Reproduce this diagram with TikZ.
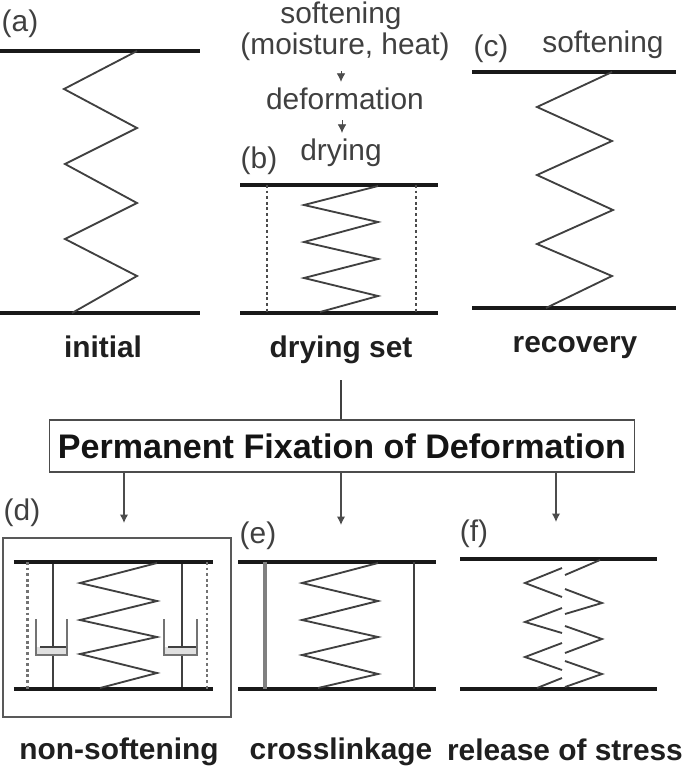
\documentclass[tikz,border=0pt]{standalone}
\usepackage{fontspec}
\setmainfont{Liberation Sans}
\usetikzlibrary{arrows.meta,positioning,calc}

\begin{document}
\begin{tikzpicture}[
  x=.02cm, y=-.02cm,
  font=\fontsize{17}{20}\selectfont,
  >={Latex[length=1.7mm,width=1.7mm]},
  caption/.style={font=\fontsize{17}{20}\selectfont\bfseries, text=black!88},
  plain/.style={text=black!75},
  plate/.style={draw=black!90, line width=1.9pt},
  spring/.style={draw=black!75, line width=1.05pt, line join=miter},
  guide/.style={draw=black!70, line width=.9pt, dash pattern=on 1.6pt off 1.6pt},
  rod/.style={draw=black!75, line width=.9pt},
  cup/.style={draw=black!55, line width=1.2pt},
  flow/.style={->, draw=black!70, line width=.8pt}
]
  \useasboundingbox (0,0) rectangle (685,769);

  % Top row: initial, drying set, recovery.
  \node[plain] (tagA) at (20,24) {(a)};
  \draw[plate] (0,51) -- (200,51);
  \draw[plate] (0,313) -- (200,313);
  \draw[spring] (137,51) -- (64,89) -- (137,128) -- (65,164) -- (137,203) -- (65,239) -- (137,276) -- (72,313);
  \node[caption] (initial) at (103,347) {initial};

  \node[plain] (soft) at (341,16) {softening};
  \node[plain] (moist) at (345,47) {(moisture, heat)};
  \node[plain] (deform) at (345,99) {deformation};
  \node[plain] (dry) at (341,153) {drying};
  \draw[flow, line width=.4pt] (341,71) -- (deform.north -| 341,0);
  \draw[flow, line width=.4pt] (342,120) -- (dry.north -| 342,0);
  \node[plain] (tagB) at (259,161) {(b)};
  \draw[plate] (240,185) -- (438,185);
  \draw[plate] (240,313) -- (438,313);
  \draw[guide] (267,185) -- (267,313);
  \draw[guide] (416,185) -- (416,313);
  \draw[spring] (378,186) -- (304,205) -- (378,222) -- (304,242) -- (378,259) -- (304,278) -- (378,296) -- (320,312);
  \node[caption] (dryset) at (341,350) {drying set};

  \node[plain] (tagC) at (491,49) {(c)};
  \node[plain] (softC) at (603,45) {softening};
  \draw[plate] (472,72) -- (676,72);
  \draw[plate] (472,308) -- (676,308);
  \draw[spring] (612,72) -- (537,107) -- (612,141) -- (537,175) -- (613,210) -- (537,244) -- (612,276) -- (546,308);
  \node[caption] (recov) at (575,348) {recovery};

  % Fixation box with its feeds.
  \node[draw=black!70, line width=1pt, minimum width=11.7cm, minimum height=1.04cm, inner sep=0pt,
    font=\fontsize{19.4}{22}\selectfont\bfseries, text=black!92] (fixbox) at (342,446) {Permanent Fixation of Deformation};
  \coordinate (feedT) at (341,380);
  \draw[rod] (feedT) -- (fixbox.north -| feedT);
  \coordinate (feedD) at (124,523);
  \coordinate (feedE) at (341,525);
  \coordinate (feedF) at (556,522);
  \foreach \f in {feedD,feedE,feedF}
    {\draw[flow] (fixbox.south -| \f) -- (\f);}

  % Bottom row: non-softening, crosslinkage, release of stress.
  \node[plain] (tagD) at (22,513) {(d)};
  \draw[draw=black!65, line width=1.3pt] (3,538) rectangle (231,717);
  \foreach \c/\l/\r in {53/36/67,182/164/197} {
    \fill[black!12] (\l,647) rectangle (\r,655);
    \draw[rod] (\c,562) -- (\c,647);
    \draw[rod] (\c,655) -- (\c,689);
    \draw[cup] (\l,619) -- (\l,655) -- (\r,655) -- (\r,619);
    \draw[rod] (\l+4,647) -- (\r-1,647);
  }
  \draw[plate] (14,562) -- (213,562);
  \draw[plate] (14,689) -- (213,689);
  \draw[guide, draw=black!55, line width=1.3pt] (27.5,562) -- (27.5,689);
  \draw[guide, draw=black!55, line width=1.3pt] (207,562) -- (207,689);
  \draw[spring] (157,563) -- (80,583) -- (157,601) -- (80,620) -- (157,637) -- (80,654) -- (157,673) -- (100,688);
  \node[caption] (nonsoft) at (119,752) {non-softening};

  \node[plain] (tagE) at (258,536) {(e)};
  \draw[plate] (238,562) -- (436,562);
  \draw[plate] (238,689) -- (436,689);
  \draw[draw=black!50, line width=2pt] (265,562) -- (265,689);
  \draw[rod] (414,562) -- (414,689);
  \draw[spring] (378,563) -- (302,583) -- (378,601) -- (302,620) -- (378,637) -- (302,655) -- (378,674) -- (318,688);
  \node[caption] (cross) at (341,752) {crosslinkage};

  \node[plain] (tagF) at (474,534) {(f)};
  \draw[plate] (460,559) -- (657,559);
  \draw[plate] (460,689) -- (657,689);
  % Spring cut in two halves by the gap.
  \draw[spring] (600,560) -- (565,575);
  \draw[spring] (562,568) -- (525,583) -- (562,597);
  \draw[spring] (565,589) -- (602,603) -- (565,614);
  \draw[spring] (562,608) -- (525,622) -- (562,633);
  \draw[spring] (565,626) -- (602,639) -- (565,653);
  \draw[spring] (562,643) -- (525,657) -- (562,670);
  \draw[spring] (565,661) -- (602,674) -- (565,687);
  \draw[spring] (562,678) -- (537,688);
  \node[caption] (release) at (565,750) {release of stress};
\end{tikzpicture}
\end{document}
